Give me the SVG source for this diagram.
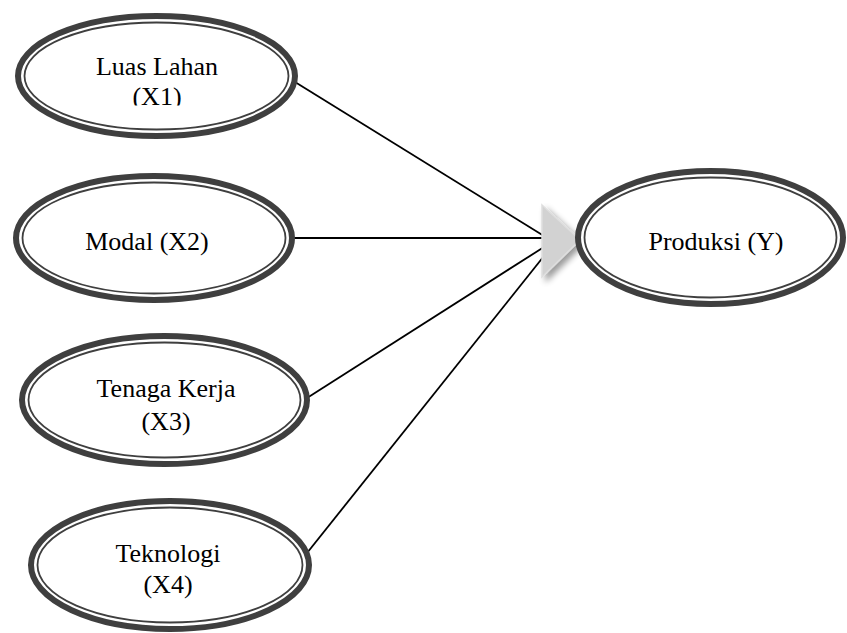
<svg xmlns="http://www.w3.org/2000/svg" width="847" height="633" viewBox="0 0 847 633">
<defs>
<style>
.outer{fill:#fff;stroke:#3f3f3f;stroke-width:6}
.inner{fill:none;stroke:#3f3f3f;stroke-width:1.8}
.lbl{font-family:"Liberation Serif","Times New Roman",serif;font-size:26px;fill:#000;text-anchor:middle}
.conn{stroke:#000;stroke-width:1.8;fill:none}
</style>
<filter id="shadow" x="-50%" y="-50%" width="200%" height="200%">
<feGaussianBlur in="SourceAlpha" stdDeviation="3"/>
<feOffset dx="4" dy="4" result="b"/>
<feComponentTransfer><feFuncA type="linear" slope="0.4"/></feComponentTransfer>
<feMerge><feMergeNode/><feMergeNode in="SourceGraphic"/></feMerge>
</filter>
<clipPath id="clip1"><rect x="0" y="0" width="320" height="105.5"/></clipPath>
</defs>
<rect width="847" height="633" fill="#fff"/>
<g id="connectors">
<line class="conn" x1="295" y1="82" x2="544" y2="236"/>
<line class="conn" x1="293" y1="238" x2="544" y2="238"/>
<line class="conn" x1="307" y1="398" x2="544" y2="247"/>
<line class="conn" x1="307" y1="553" x2="544" y2="256"/>
</g>
<g id="arrowhead">
<polygon points="542,205 580,240 542,277" fill="#d2d2d2" stroke="#dedede" stroke-width="1.5" filter="url(#shadow)"/>
</g>
<g id="x1">
<ellipse class="outer" cx="156.5" cy="76" rx="138.5" ry="60"/>
<ellipse class="inner" cx="156.5" cy="76" rx="132" ry="53.5"/>
<g clip-path="url(#clip1)">
<text class="lbl" x="157" y="75">Luas Lahan</text>
<text class="lbl" x="157" y="105">(X1)</text>
</g>
</g>
<g id="x2">
<ellipse class="outer" cx="154" cy="238" rx="138" ry="62"/>
<ellipse class="inner" cx="154" cy="238" rx="131.5" ry="55.5"/>
<text class="lbl" x="147" y="250">Modal (X2)</text>
</g>
<g id="x3">
<ellipse class="outer" cx="164.5" cy="400" rx="142.5" ry="64"/>
<ellipse class="inner" cx="164.5" cy="400" rx="136" ry="57.5"/>
<text class="lbl" x="166" y="397">Tenaga Kerja</text>
<text class="lbl" x="166" y="430">(X3)</text>
</g>
<g id="x4">
<ellipse class="outer" cx="170" cy="565" rx="139" ry="64"/>
<ellipse class="inner" cx="170" cy="565" rx="132.5" ry="57.5"/>
<text class="lbl" x="168" y="562">Teknologi</text>
<text class="lbl" x="168" y="593">(X4)</text>
</g>
<g id="y">
<ellipse class="outer" cx="710.5" cy="237.5" rx="132.5" ry="66.5"/>
<ellipse class="inner" cx="710.5" cy="237.5" rx="126" ry="60"/>
<text class="lbl" x="716" y="250">Produksi (Y)</text>
</g>
</svg>
